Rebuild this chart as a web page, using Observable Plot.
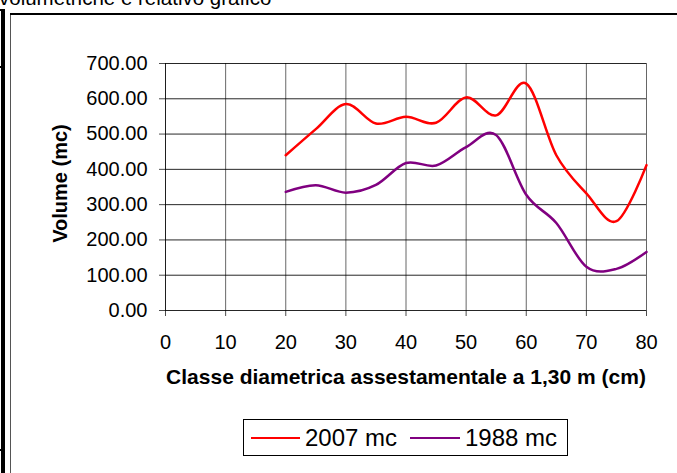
<!DOCTYPE html>
<html>
<head>
<meta charset="utf-8">
<script src="https://cdn.jsdelivr.net/npm/d3@7"></script>
<script src="https://cdn.jsdelivr.net/npm/@observablehq/plot@0.6"></script>
<style>
  html, body { margin: 0; padding: 0; background: #fff; }
  #wrap { position: relative; width: 677px; height: 473px; overflow: hidden; font-family: "Liberation Sans", Arial, sans-serif; }
  .abs { position: absolute; }
  #chart { position: absolute; left: 0; top: 0; }
</style>
</head>
<body>
<div id="wrap">
  <div class="abs" style="left:-1px; top:-12px; font-size:20.5px; line-height:20px; color:#000; white-space:nowrap;">volumetriche e relativo grafico</div>
  <div class="abs" style="left:1px; top:9px; width:4px; height:470px; background:#000;"></div>
  <div class="abs" style="left:0px; top:9px; width:5px; height:2px; background:#000;"></div>
  <div class="abs" style="left:0px; top:66px; width:4px; height:2px; background:#000;"></div>
  <div class="abs" style="left:0px; top:449px; width:4px; height:2px; background:#000;"></div>
  <div class="abs" style="left:10px; top:13px; width:1px; height:470px; background:#555;"></div>
  <div class="abs" style="left:10px; top:13px; width:680px; height:1.5px; background:#000;"></div>
  <div id="chart"></div>
  <div class="abs" style="left:243px; top:419px; width:323px; height:35px; border:1px solid #000; background:#fff;"></div>
  <div class="abs" style="left:251px; top:436.5px; width:49px; height:2.5px; background:#ff0000;"></div>
  <div class="abs" style="left:305px; top:424px; font-size:24px; line-height:28px; white-space:nowrap;">2007 mc</div>
  <div class="abs" style="left:410px; top:436.5px; width:50px; height:2.5px; background:#800080;"></div>
  <div class="abs" style="left:465px; top:424px; font-size:24px; line-height:28px; white-space:nowrap;">1988 mc</div>
</div>
<script>
const classes = [20, 25, 30, 35, 40, 45, 50, 55, 60, 65, 70, 75, 80];
const vol2007 = [440, 514, 585, 530, 549, 532, 604, 553, 643, 440, 332, 253, 412];
const vol1988 = [336, 355, 334, 356, 418, 411, 463, 497, 328, 248, 124, 118, 166];
const xTicks = [0, 10, 20, 30, 40, 50, 60, 70, 80];
const yTicks = [0, 100, 200, 300, 400, 500, 600, 700];
const seriesNames = ["2007 mc", "1988 mc"];
const seriesColors = ["#ff0000", "#800080"];

const rows = [];
classes.forEach((c, i) => {
  rows.push({x: c, y: vol2007[i], s: seriesNames[0]});
  rows.push({x: c, y: vol1988[i], s: seriesNames[1]});
});

const chart = Plot.plot({
  width: 677,
  height: 473,
  marginLeft: 165,
  marginRight: 31,
  marginTop: 63,
  marginBottom: 163,
  style: {fontFamily: "'Liberation Sans', Arial, sans-serif", fontSize: "20px", background: "transparent", overflow: "visible", color: "#000"},
  x: {domain: [0, 80], ticks: xTicks},
  y: {domain: [0, 700], ticks: yTicks},
  color: {domain: seriesNames, range: seriesColors},
  marks: [
    Plot.gridY(yTicks, {stroke: "#000", strokeOpacity: 0.85, strokeWidth: 1}),
    Plot.gridX(xTicks, {stroke: "#000", strokeOpacity: 0.6, strokeWidth: 1}),
    Plot.axisX(xTicks, {label: null, tickSize: 6, tickPadding: 18, tickFormat: d3.format("d"), stroke: "#000", strokeOpacity: 0.7}),
    Plot.axisY(yTicks, {label: null, tickSize: 6, tickPadding: 12, tickFormat: d3.format(".2f"), stroke: "#000", strokeOpacity: 0.7}),
    Plot.ruleX([0], {stroke: "#000", strokeOpacity: 0.7, y1: 0, y2: 700}),
    Plot.line(rows, {x: "x", y: "y", z: "s", stroke: "s", strokeWidth: 2.5, curve: "cardinal"}),
    Plot.text(["Classe diametrica assestamentale a 1,30 m (cm)"], {frameAnchor: "bottom", textAnchor: "middle", lineAnchor: "middle", dy: 67, fontWeight: "bold", fontSize: 21, letterSpacing: 0.4, fill: "#000"}),
    Plot.text(["Volume (mc)"], {frameAnchor: "left", textAnchor: "middle", lineAnchor: "middle", rotate: -90, dx: -105, dy: -3.5, fontWeight: "bold", fontSize: 20, fill: "#000"})
  ]
});
document.getElementById("chart").appendChild(chart);
</script>
</body>
</html>
